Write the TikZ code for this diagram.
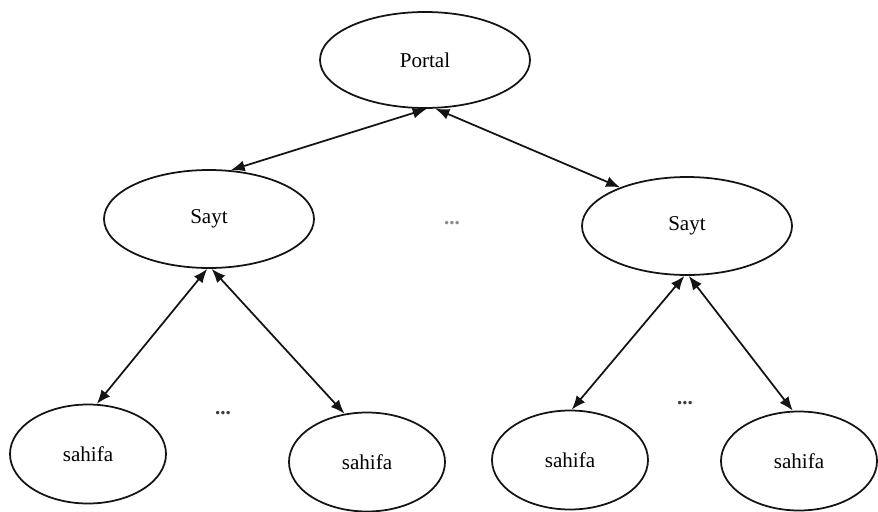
\documentclass[tikz,border=0pt]{standalone}
\usepackage{fontspec}
\setmainfont{Liberation Serif}
\usepackage{xcolor}
\usepackage{tikz}
\usetikzlibrary{shapes.geometric, arrows.meta, positioning}
\definecolor{myink}{RGB}{20,20,20}
\definecolor{mydots}{RGB}{60,60,60}
\definecolor{mypale}{RGB}{140,140,140}
\tikzset{
  bigoval/.style={ellipse, draw=myink, fill=white,
    minimum width=4.2cm, minimum height=1.96cm, inner sep=0pt,
    font=\large, line width=1pt},
  pageoval/.style={ellipse, draw=myink, fill=white,
    minimum width=3.12cm, minimum height=1.98cm, inner sep=0pt,
    font=\large, line width=1pt},
  dblarrow/.style={{Latex[length=2.8mm,width=2.2mm]}-{Latex[length=2.8mm,width=2.2mm]},
    line width=1pt, color=myink},
  gapdots/.style={font=\large\bfseries, text=mydots, inner sep=0pt}
}

\begin{document}
\begin{tikzpicture}[on grid, font=\large]
  \useasboundingbox (-8.5,1.2) rectangle (9.06,-9.02);
  \node[bigoval, minimum height=1.92cm] (portal) {Portal};
  \node[bigoval, below left=3.18cm and 4.32cm of portal] (sayt1) {Sayt};
  \node[bigoval, below right=3.32cm and 5.24cm of portal] (sayt2) {Sayt};

  \node[pageoval, below left=4.7cm and 2.42cm of sayt1] (page1) {sahifa};
  \node[pageoval, below right=4.86cm and 3.16cm of sayt1] (page2) {sahifa};
  \node[pageoval, below left=4.68cm and 2.34cm of sayt2] (page3) {sahifa};
  \node[pageoval, below right=4.7cm and 2.24cm of sayt2] (page4) {sahifa};

  % gaps between siblings
  \node[gapdots, text=mypale, below right=3.26cm and 0.54cm of portal] (gap0) {...};
  \node[gapdots, below right=3.88cm and 0.28cm of sayt1] (gap1) {...};
  \node[gapdots, below left=3.54cm and 0.04cm of sayt2] (gap2) {...};

  \draw[dblarrow] (portal.-88) -- (sayt1.66);
  \draw[dblarrow] (portal.-78) -- (sayt2.150);
  \draw[dblarrow] (sayt1.-92) -- (page1.80);
  \draw[dblarrow] (sayt1.-87) -- (page2.115);
  \draw[dblarrow] (sayt2.-93) -- (page3.88);
  \draw[dblarrow] (sayt2.-88) -- (page4.97);
\end{tikzpicture}
\end{document}
